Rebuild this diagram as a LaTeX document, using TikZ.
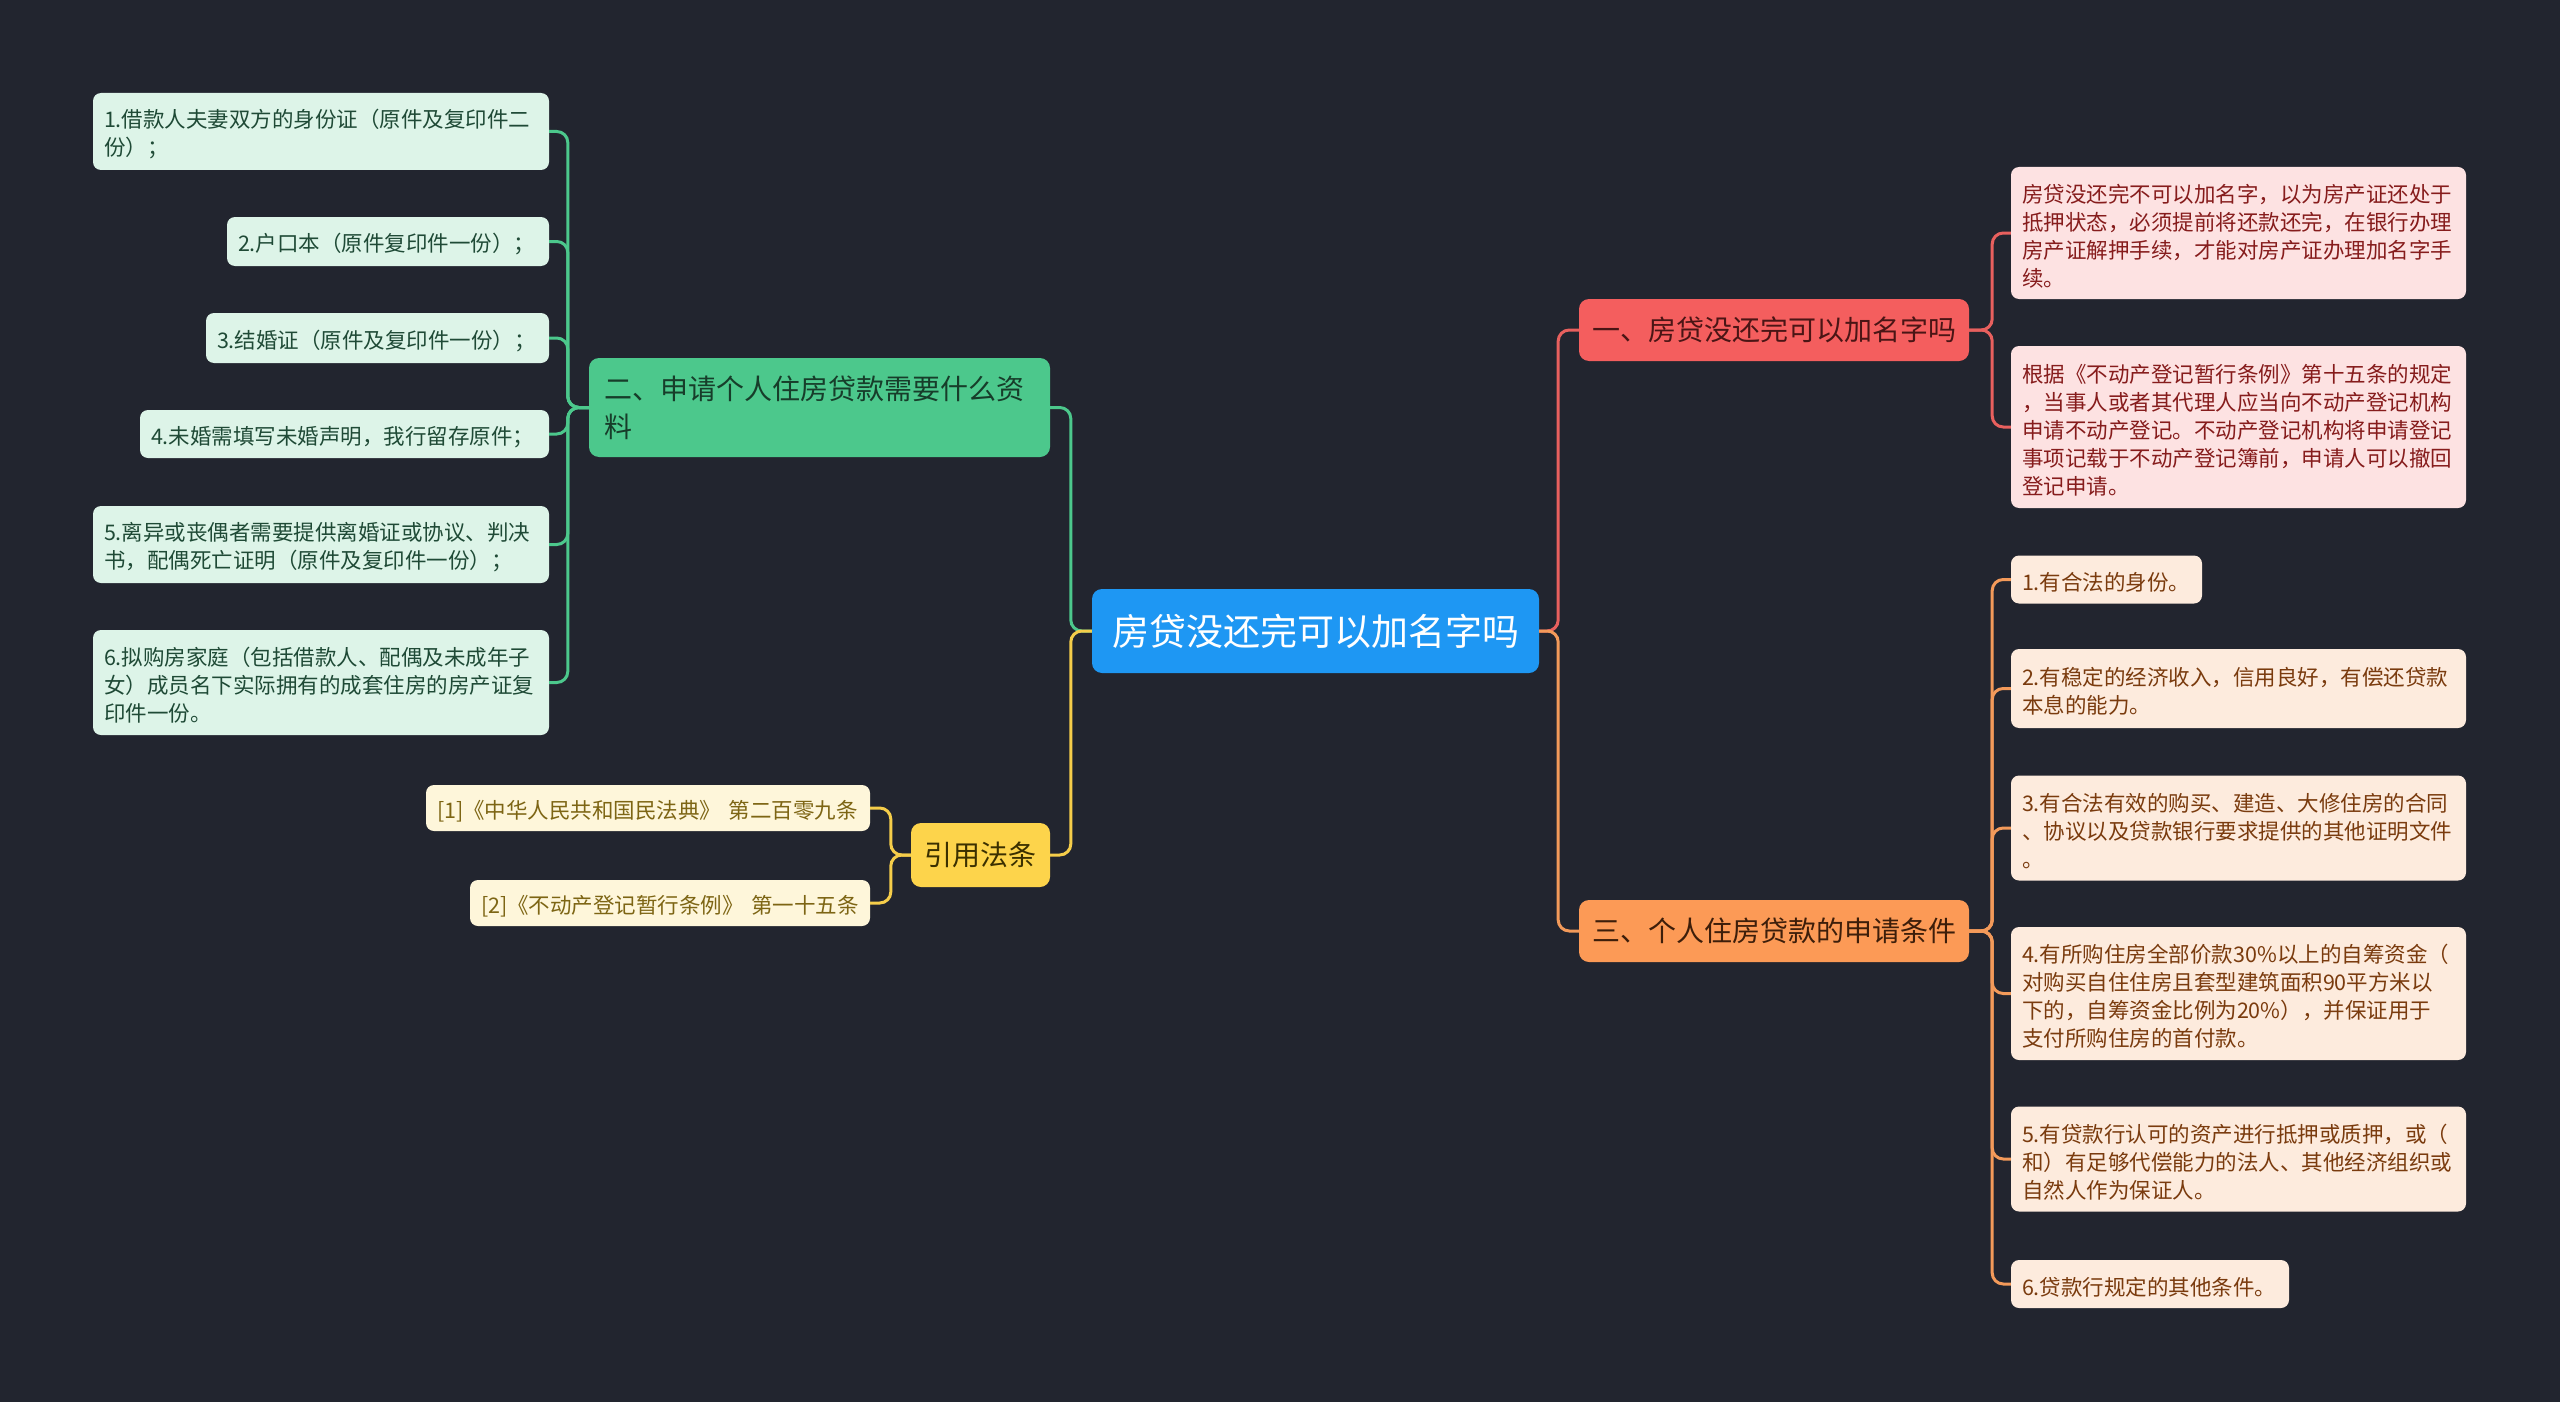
\documentclass[tikz,border=0pt]{standalone}
\usepackage{fontspec}
\setmainfont{Noto Sans CJK SC}
\definecolor{bgc}{HTML}{22252F}
\definecolor{rootc}{HTML}{1E97F3}
\definecolor{redc}{HTML}{F45E5E}
\definecolor{redtxt}{HTML}{4A1515}
\definecolor{pinkf}{HTML}{FDE2E2}
\definecolor{pinktxt}{HTML}{861C1C}
\definecolor{greenc}{HTML}{4CC88C}
\definecolor{greentxt}{HTML}{173D2A}
\definecolor{greenf}{HTML}{DDF4E8}
\definecolor{greenitxt}{HTML}{1F4A36}
\definecolor{yellc}{HTML}{FDD44B}
\definecolor{yelltxt}{HTML}{3B3000}
\definecolor{yellf}{HTML}{FEF6DA}
\definecolor{yellitxt}{HTML}{7D6514}
\definecolor{orc}{HTML}{FC9A56}
\definecolor{ortxt}{HTML}{3D1E0A}
\definecolor{orf}{HTML}{FDEBDD}
\definecolor{oritxt}{HTML}{7A3B0E}
\definecolor{lgreen}{HTML}{4CC88C}
\definecolor{lyell}{HTML}{F5CD4A}
\definecolor{lred}{HTML}{E8605E}
\definecolor{lor}{HTML}{F39A5A}
\begin{document}
\begin{tikzpicture}[x=1pt,y=-1pt,
  mainbox/.style={rounded corners=10pt, inner sep=0pt, align=center},
  itembox/.style={rounded corners=8pt, inner xsep=11pt, inner ysep=0pt, align=left,
    font=\fontsize{21.5}{28}\selectfont, execute at begin node={\rule{0pt}{24pt}}},
  gitem/.style={itembox, fill=greenf, text=greenitxt},
  pitem/.style={itembox, fill=pinkf, text=pinktxt},
  oitem/.style={itembox, fill=orf, text=oritxt},
  litem/.style={itembox, fill=yellf, text=yellitxt},
  conn/.style={line width=3pt, rounded corners=11pt},
]
\fill[bgc] (0,0) rectangle (2560,1402);
\useasboundingbox (0,0) rectangle (2560,1402);

% main nodes
\node[mainbox, fill=rootc, text=white, minimum width=447pt, minimum height=84pt,
  font=\fontsize{37}{44}\selectfont] (root) at (1315.5,631) {房贷没还完可以加名字吗};
\node[mainbox, fill=redc, text=redtxt, minimum width=390pt, minimum height=62pt,
  font=\fontsize{28}{36}\selectfont] (n1) at (1774,330) {一、房贷没还完可以加名字吗};
\node[mainbox, fill=orc, text=ortxt, minimum width=390pt, minimum height=62pt,
  font=\fontsize{28}{36}\selectfont] (n3) at (1774,931) {三、个人住房贷款的申请条件};
\node[mainbox, fill=greenc, text=greentxt, text width=431pt, inner xsep=15pt, align=left,
  minimum height=99pt, font=\fontsize{28}{37.6}\selectfont] (n2) at (819.5,407.5)
  {二、申请个人住房贷款需要什么资\\料};
\node[mainbox, fill=yellc, text=yelltxt, minimum width=139pt, minimum height=64pt,
  font=\fontsize{28}{36}\selectfont] (law) at (980.5,855) {引用法条};

% green items
\node[gitem, text width=434pt, minimum height=77pt] (g1) at (321,131.5)
  {1.借款人夫妻双方的身份证（原件及复印件二\\份）；};
\node[gitem, text width=300pt, minimum height=49pt] (g2) at (388,241.5)
  {2.户口本（原件复印件一份）；};
\node[gitem, text width=321pt, minimum height=50pt] (g3) at (377.5,338)
  {3.结婚证（原件及复印件一份）；};
\node[gitem, text width=387pt, minimum height=48pt] (g4) at (344.5,434)
  {4.未婚需填写未婚声明，我行留存原件；};
\node[gitem, text width=434pt, minimum height=77pt] (g5) at (321,544.5)
  {5.离异或丧偶者需要提供离婚证或协议、判决\\书，配偶死亡证明（原件及复印件一份）；};
\node[gitem, text width=434pt, minimum height=105pt] (g6) at (321,682.5)
  {6.拟购房家庭（包括借款人、配偶及未成年子\\女）成员名下实际拥有的成套住房的房产证复\\印件一份。};

% law items
\node[litem, text width=422pt, minimum height=46pt] (L1) at (648,808)
  {[1]《中华人民共和国民法典》 第二百零九条};
\node[litem, text width=378pt, minimum height=46pt] (L2) at (670,903)
  {[2]《不动产登记暂行条例》 第一十五条};

% pink items
\node[pitem, text width=433pt, minimum height=132pt] (p1) at (2238.5,233)
  {房贷没还完不可以加名字，以为房产证还处于\\抵押状态，必须提前将还款还完，在银行办理\\房产证解押手续，才能对房产证办理加名字手\\续。};
\node[pitem, text width=433pt, minimum height=162pt] (p2) at (2238.5,427)
  {根据《不动产登记暂行条例》第十五条的规定\\，当事人或者其代理人应当向不动产登记机构\\申请不动产登记。不动产登记机构将申请登记\\事项记载于不动产登记簿前，申请人可以撤回\\登记申请。};

% orange items
\node[oitem, text width=169pt, minimum height=48pt] (o1) at (2106.5,579.5)
  {1.有合法的身份。};
\node[oitem, text width=433pt, minimum height=79pt] (o2) at (2238.5,688.5)
  {2.有稳定的经济收入，信用良好，有偿还贷款\\本息的能力。};
\node[oitem, text width=433pt, minimum height=105pt] (o3) at (2238.5,828)
  {3.有合法有效的购买、建造、大修住房的合同\\、协议以及贷款银行要求提供的其他证明文件\\。};
\node[oitem, text width=433pt, minimum height=133pt] (o4) at (2238.5,993.5)
  {4.有所购住房全部价款30\%以上的自筹资金（\\对购买自住住房且套型建筑面积90平方米以\\下的，自筹资金比例为20\%），并保证用于\\支付所购住房的首付款。};
\node[oitem, text width=433pt, minimum height=105pt] (o5) at (2238.5,1159)
  {5.有贷款行认可的资产进行抵押或质押，或（\\和）有足够代偿能力的法人、其他经济组织或\\自然人作为保证人。};
\node[oitem, text width=256pt, minimum height=48pt] (o6) at (2150,1284)
  {6.贷款行规定的其他条件。};

% connectors
\draw[conn, lgreen] (root.west) -- ++(-21,0) |- (n2.east);
\draw[conn, lyell] (root.west) -- ++(-21,0) |- (law.east);
\draw[conn, lred] (root.east) -- ++(19,0) |- (n1.west);
\draw[conn, lor] (root.east) -- ++(19,0) |- (n3.west);
\foreach \i in {1,...,6} \draw[conn, lgreen] (n2.west) -- ++(-21,0) |- (g\i.east);
\foreach \i in {1,2} \draw[conn, lyell] (law.west) -- ++(-20,0) |- (L\i.east);
\foreach \i in {1,2} \draw[conn, lred] (n1.east) -- ++(23,0) |- (p\i.west);
\foreach \i in {1,...,6} \draw[conn, lor] (n3.east) -- ++(23,0) |- (o\i.west);
\end{tikzpicture}
\end{document}
